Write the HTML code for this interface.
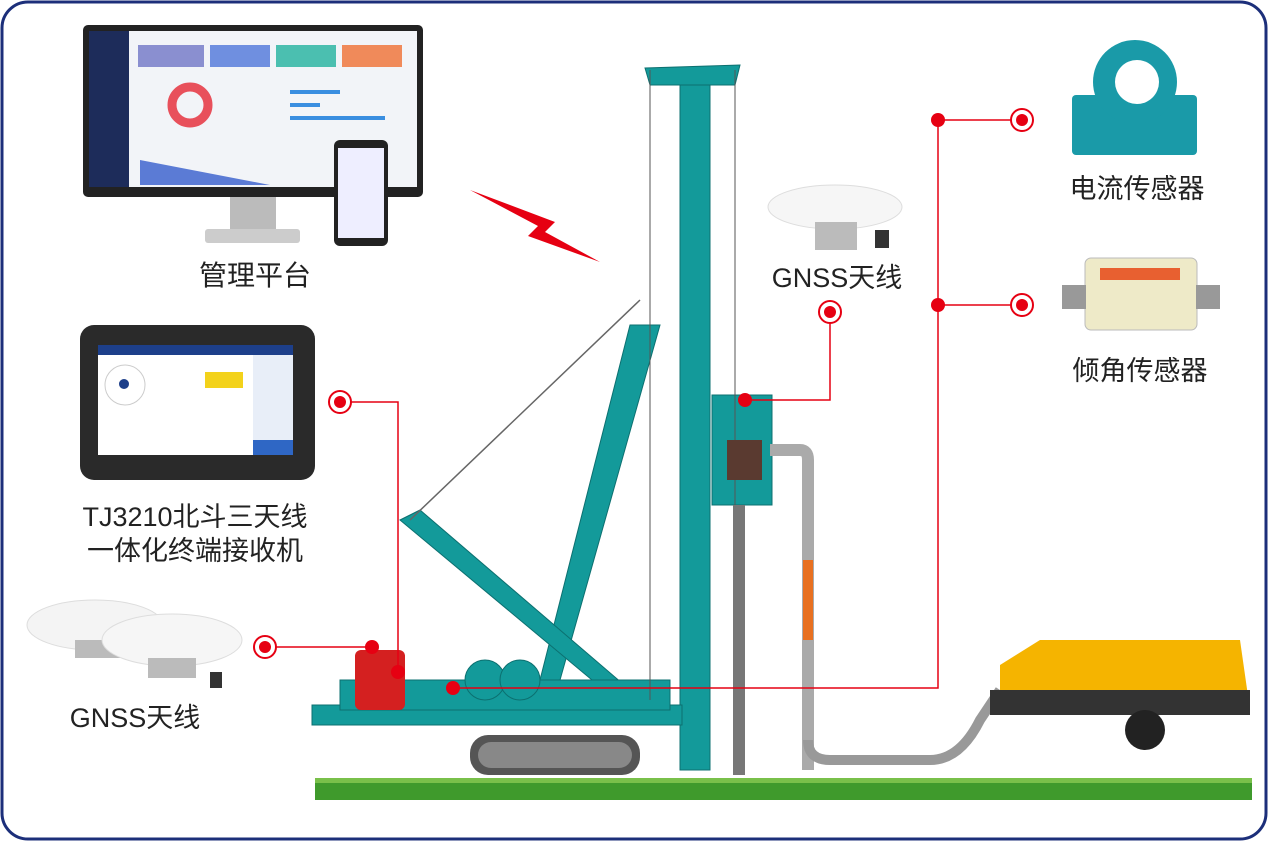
<!DOCTYPE html>
<html><head><meta charset="utf-8"><style>
html,body{margin:0;padding:0;background:#fff;}
body{width:1269px;height:842px;overflow:hidden;font-family:"Liberation Sans","Noto Sans CJK SC",sans-serif;}
</style></head><body>
<svg width="1269" height="842" viewBox="0 0 1269 842" xmlns="http://www.w3.org/2000/svg">
<rect x="2" y="2" width="1264" height="837" rx="26" fill="#fff" stroke="#1c2f7a" stroke-width="3"/>
<!-- monitor -->
<rect x="83" y="25" width="340" height="172" rx="5" fill="#222"/>
<rect x="89" y="31" width="328" height="156" fill="#f2f4f8"/>
<rect x="89" y="31" width="40" height="156" fill="#1d2c5a"/>
<rect x="138" y="45" width="66" height="22" fill="#8a8fd0"/><rect x="210" y="45" width="60" height="22" fill="#6f8fe0"/>
<rect x="276" y="45" width="60" height="22" fill="#4bbfb0"/><rect x="342" y="45" width="60" height="22" fill="#f08a5a"/>
<circle cx="190" cy="105" r="18" fill="none" stroke="#e8505b" stroke-width="9"/>
<rect x="290" y="90" width="50" height="4" fill="#3a8ee0"/><rect x="290" y="103" width="30" height="4" fill="#3a8ee0"/><rect x="290" y="116" width="95" height="4" fill="#3a8ee0"/>
<polygon points="140,160 270,185 140,185" fill="#5b7bd5"/>
<rect x="230" y="197" width="46" height="32" fill="#bbb"/><rect x="205" y="229" width="95" height="14" rx="3" fill="#ccc"/>
<rect x="334" y="140" width="54" height="106" rx="6" fill="#222"/><rect x="338" y="148" width="46" height="90" fill="#eef"/>
<text x="255" y="285" font-size="28" text-anchor="middle" fill="#222">管理平台</text>
<!-- lightning -->
<polygon points="470,190 555,222 545,232 600,262 528,236 538,226" fill="#e60012"/>
<!-- tablet -->
<rect x="80" y="325" width="235" height="155" rx="14" fill="#2a2a2a"/>
<rect x="98" y="345" width="195" height="110" fill="#fff"/>
<rect x="98" y="345" width="195" height="10" fill="#1d3f8a"/>
<rect x="253" y="355" width="40" height="100" fill="#e8eef8"/><rect x="253" y="440" width="40" height="15" fill="#2f67c5"/>
<circle cx="125" cy="385" r="20" fill="none" stroke="#ccc"/><circle cx="124" cy="384" r="5" fill="#1d3f8a"/>
<rect x="205" y="372" width="38" height="16" fill="#f3d21b"/>
<text x="195" y="526" font-size="27" text-anchor="middle" fill="#222">TJ3210北斗三天线</text>
<text x="195" y="560" font-size="27" text-anchor="middle" fill="#222">一体化终端接收机</text>
<!-- left GNSS -->
<ellipse cx="95" cy="625" rx="68" ry="25" fill="#f4f4f4" stroke="#ddd"/><rect x="75" y="640" width="45" height="18" fill="#bbb"/>
<ellipse cx="172" cy="640" rx="70" ry="26" fill="#f6f6f6" stroke="#ddd"/><rect x="148" y="658" width="48" height="20" fill="#bbb"/><rect x="210" y="672" width="12" height="16" fill="#333"/>
<text x="135" y="727" font-size="27" text-anchor="middle" fill="#222">GNSS天线</text>
<!-- grass -->
<rect x="315" y="778" width="937" height="22" fill="#3f9a2c"/>
<rect x="315" y="778" width="937" height="5" fill="#79c04a"/>
<!-- rig -->
<g fill="#139a9a" stroke="#0c7070" stroke-width="1">
<rect x="680" y="70" width="30" height="700"/>
<polygon points="645,68 740,65 735,85 650,85"/>
<polygon points="630,325 660,325 560,680 540,680"/>
<polygon points="400,520 420,510 630,690 610,695"/>
<rect x="312" y="705" width="370" height="20"/>
<rect x="340" y="680" width="330" height="30"/>
<rect x="712" y="395" width="60" height="110"/>
</g>
<line x1="640" y1="300" x2="410" y2="520" stroke="#666" stroke-width="1.5"/>
<line x1="650" y1="70" x2="650" y2="700" stroke="#555" stroke-width="1"/>
<line x1="735" y1="70" x2="735" y2="700" stroke="#555" stroke-width="1"/>
<rect x="470" y="735" width="170" height="40" rx="18" fill="#555"/><rect x="478" y="742" width="154" height="26" rx="13" fill="#888"/>
<rect x="355" y="650" width="50" height="60" fill="#d42020" rx="6"/>
<circle cx="485" cy="680" r="20" fill="#139a9a" stroke="#0c7070"/><circle cx="520" cy="680" r="20" fill="#139a9a" stroke="#0c7070"/>
<rect x="727" y="440" width="35" height="40" fill="#5a3a30"/>
<path d="M770 450 H800 Q808 450 808 460 V770 M770 460" stroke="#aaa" stroke-width="12" fill="none"/>
<rect x="803" y="560" width="10" height="80" fill="#e87020"/>
<path d="M808 740 Q808 760 830 760 H930 Q960 760 980 720 L1000 690" stroke="#999" stroke-width="10" fill="none"/>
<rect x="733" y="505" width="12" height="270" fill="#777"/>
<!-- pump -->
<polygon points="1000,665 1040,640 1240,640 1250,710 1000,710" fill="#f5b400"/>
<rect x="990" y="690" width="260" height="25" fill="#333"/>
<circle cx="1145" cy="730" r="20" fill="#222"/>
<!-- right GNSS -->
<ellipse cx="835" cy="207" rx="67" ry="22" fill="#f6f6f6" stroke="#ddd"/><rect x="815" y="222" width="42" height="28" fill="#bbb"/><rect x="875" y="230" width="14" height="18" fill="#333"/>
<text x="837" y="287" font-size="27" text-anchor="middle" fill="#222">GNSS天线</text>
<!-- current sensor -->
<rect x="1072" y="95" width="125" height="60" rx="4" fill="#1a9aa8"/>
<circle cx="1135" cy="82" r="42" fill="#1a9aa8"/><circle cx="1137" cy="82" r="22" fill="#fff"/>
<text x="1137" y="198" font-size="27" text-anchor="middle" fill="#222">电流传感器</text>
<!-- tilt sensor -->
<rect x="1085" y="258" width="112" height="72" rx="6" fill="#eeeac8" stroke="#bbb"/>
<rect x="1100" y="268" width="80" height="12" fill="#e86030"/>
<rect x="1062" y="285" width="24" height="24" fill="#999"/><rect x="1196" y="285" width="24" height="24" fill="#999"/>
<text x="1140" y="380" font-size="27" text-anchor="middle" fill="#222">倾角传感器</text>
<!-- red connectors -->
<g stroke="#e60012" stroke-width="1.5" fill="none">
<polyline points="1022,120 938,120 938,688 453,688"/>
<line x1="938" y1="305" x2="1022" y2="305"/>
<polyline points="830,312 830,400 745,400"/>
<polyline points="340,402 398,402 398,672"/>
<line x1="265" y1="647" x2="372" y2="647"/>
</g>
<g fill="#e60012">
<circle cx="938" cy="120" r="7"/><circle cx="938" cy="305" r="7"/>
<circle cx="745" cy="400" r="7"/><circle cx="398" cy="672" r="7"/><circle cx="372" cy="647" r="7"/><circle cx="453" cy="688" r="7"/>
</g>
<g>
<circle cx="1022" cy="120" r="11" fill="#fff" stroke="#e60012" stroke-width="2"/><circle cx="1022" cy="120" r="6" fill="#e60012"/>
<circle cx="1022" cy="305" r="11" fill="#fff" stroke="#e60012" stroke-width="2"/><circle cx="1022" cy="305" r="6" fill="#e60012"/>
<circle cx="830" cy="312" r="11" fill="#fff" stroke="#e60012" stroke-width="2"/><circle cx="830" cy="312" r="6" fill="#e60012"/>
<circle cx="340" cy="402" r="11" fill="#fff" stroke="#e60012" stroke-width="2"/><circle cx="340" cy="402" r="6" fill="#e60012"/>
<circle cx="265" cy="647" r="11" fill="#fff" stroke="#e60012" stroke-width="2"/><circle cx="265" cy="647" r="6" fill="#e60012"/>
</g>
</svg>
</body></html>
